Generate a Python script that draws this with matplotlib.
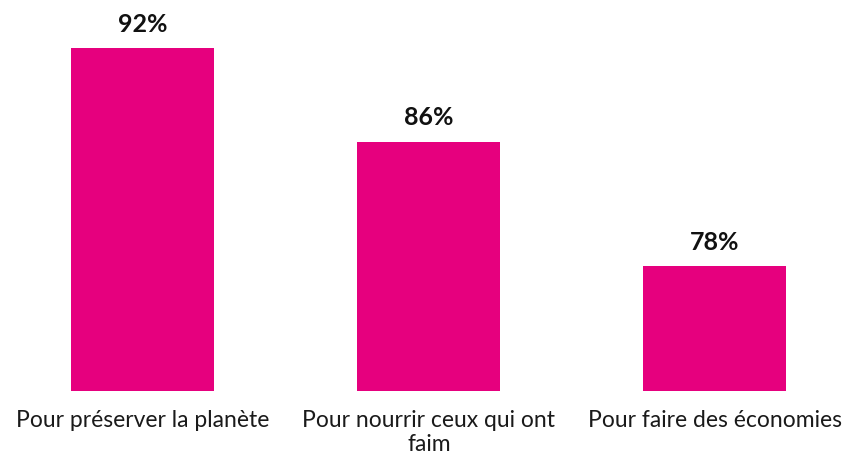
import matplotlib.pyplot as plt

categories = ["Pour préserver la planète", "Pour nourrir ceux qui ont\nfaim", "Pour faire des économies"]
values = [92, 86, 78]
labels = ["92%", "86%", "78%"]

plt.rcParams['font.family'] = ['Lato', 'DejaVu Sans']

fig = plt.figure(figsize=(8.52, 4.55), dpi=100)
ax = fig.add_axes([0, 1 - 391 / 455, 1, 391 / 455])

x = range(len(values))
ax.bar(x, values, width=0.5, color="#E6007E", bottom=0)
ax.set_xlim(-0.5, 2.5 - 6 / 286)
ax.set_ylim(70, 95.08)

for i, v in enumerate(values):
    ax.annotate(labels[i], (i, v), xytext=(0, 9), textcoords="offset points",
                ha="center", va="bottom", fontsize=18, fontweight="bold", color="#111111")

ax.set_xticks(list(x))
ax.set_xticklabels(categories, fontsize=16.5, color="#1a1a1a", linespacing=1.15)
ax.tick_params(axis="x", length=0, pad=14)
ax.set_yticks([])
for s in ax.spines.values():
    s.set_visible(False)

fig.savefig("out.png", dpi=100)
